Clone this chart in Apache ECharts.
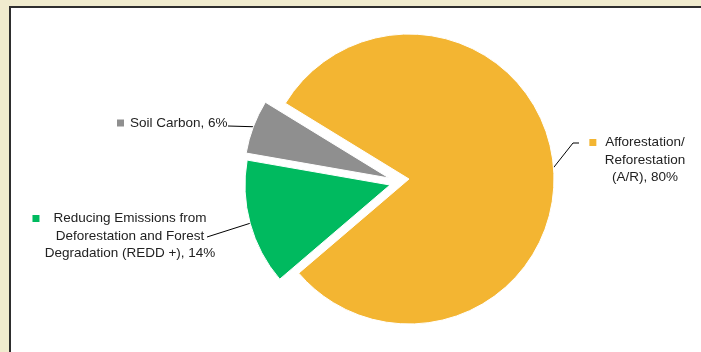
<!DOCTYPE html>
<html lang="en">
  <head>
    <meta charset="UTF-8" />
    <title>Carbon project types</title>
    <style>
      html, body {
        margin: 0;
        padding: 0;
        background-color: #f0ebce;
      }
      #main {
        position: absolute;
        left: 9px;
        top: 6px;
        width: 692px;
        height: 346px;
        background-color: #fff;
        border-left: 2px solid #2e2e2e;
        border-top: 2px solid #2e2e2e;
      }
    </style>
  </head>
  <body>
    <div id="main"></div>
    <script src="https://cdn.jsdelivr.net/npm/echarts@6/dist/echarts.min.js"></script>
    <script>
      // category names (line breaks as in the labels) and shares in %
      var categories = [
        'Afforestation/\nReforestation\n(A/R)',
        'Reducing Emissions from\nDeforestation and Forest\nDegradation (REDD +)',
        'Soil Carbon'
      ];
      var values = [80, 14, 6];
      var colors = ['#f3b532', '#00ba5f', '#8f8f8f'];

      // pie geometry, and how far each slice is pulled out (px)
      var cx = 398, cy = 171, R = 145, startAngle = 148.5;
      var pullOut = [[0, 0], [-19, 6], [-20, -1]];

      // where each label sits (chart px) and how its text is aligned
      var labelPos = [
        { x: 634, y: 152, align: 'center', gap: 9 },
        { x: 119, y: 228, align: 'center', gap: 14 },
        { x: 106, y: 115, align: 'left', gap: 6 }
      ];

      function labelText(i) {
        var lines = (categories[i] + ', ' + values[i] + '%').split('\n');
        var g = labelPos[i].gap;
        var out = '{m' + i + '|}{g' + g + '|}{t|' + lines[0] + '}';
        if (lines.length > 1) out += '{g' + (g + 7) + '|}';
        for (var k = 1; k < lines.length; k++) out += '\n{t|' + lines[k] + '}';
        return out;
      }

      var rich = { t: { fontSize: 13.5, color: '#222', lineHeight: 17.5, fontFamily: 'Liberation Sans' } };
      colors.forEach(function (c, i) {
        rich['m' + i] = { width: 7, height: 7, backgroundColor: c };
      });
      [6, 9, 13, 14, 16, 21].forEach(function (w) {
        rich['g' + w] = { width: w, height: 7 };
      });

      function leader(i, start) {
        var lp = labelPos[i];
        if (i === 0) return [start, [lp.x - 72, lp.y - 17], [lp.x - 66, lp.y - 17]];
        if (i === 1) return [start, [lp.x + 77, lp.y + 1]];
        return [start, [lp.x + 111, lp.y + 3]];
      }

      // one pie per slice so each slice can be pulled out on its own
      var series = values.map(function (v, i) {
        return {
          type: 'pie',
          silent: true,
          center: [cx + pullOut[i][0], cy + pullOut[i][1]],
          radius: R,
          startAngle: startAngle,
          clockwise: true,
          label: {
            show: true,
            overflow: 'none',
            alignTo: 'none',
            formatter: function (p) { return labelText(p.dataIndex); },
            rich: rich
          },
          labelLine: { show: true, lineStyle: { color: '#000', width: 1 } },
          labelLayout: function (p) {
            var lp = labelPos[p.dataIndex];
            var start = p.labelLinePoints ? p.labelLinePoints[0] : [lp.x, lp.y];
            return {
              x: lp.x,
              y: lp.y,
              align: lp.align,
              verticalAlign: 'middle',
              labelLinePoints: leader(p.dataIndex, start)
            };
          },
          emphasis: { disabled: true },
          data: categories.map(function (name, j) {
            var own = j === i;
            return {
              name: name,
              value: values[j],
              itemStyle: own
                ? { color: colors[j], borderColor: '#fff', borderWidth: 1 }
                : { color: 'rgba(0,0,0,0)', borderWidth: 0 },
              label: { show: own },
              labelLine: { show: own }
            };
          })
        };
      });

      var myChart = echarts.init(document.getElementById('main'));
      myChart.setOption({ animation: false, series: series });
    </script>
  </body>
</html>
